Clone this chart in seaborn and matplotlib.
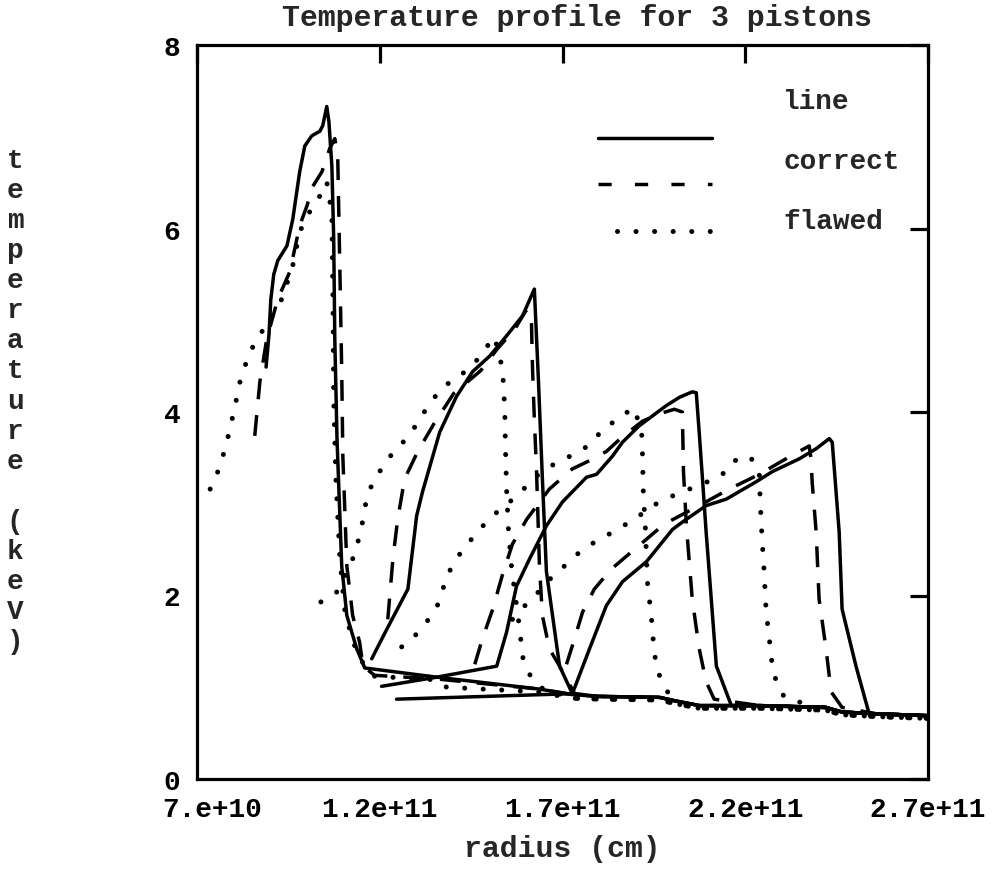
import numpy as np
import matplotlib
matplotlib.use("Agg")
import matplotlib.pyplot as plt
import matplotlib.transforms as mtransforms
import seaborn as sns
from matplotlib.lines import Line2D

# Radius values are in units of 1e10 cm, temperatures in keV.

# ---- "line" method: four snapshots ----
line1_r = [8.89, 8.97, 9.02, 9.10, 9.21, 9.46, 9.62, 9.81, 9.95, 10.14, 10.36, 10.44, 10.55, 10.61,
           10.69, 10.74, 10.77, 10.83, 10.96, 11.10, 11.37, 11.59, 13.56, 16.37, 17.27]
line1_T = [4.49, 4.85, 5.23, 5.50, 5.65, 5.81, 6.10, 6.62, 6.90, 7.01, 7.06, 7.12, 7.33, 7.16,
           6.68, 5.89, 4.80, 3.71, 2.32, 1.78, 1.42, 1.21, 1.11, 0.98, 0.92]

line2_r = [11.78, 12.19, 12.77, 13.01, 13.17, 13.64, 14.10, 14.54, 15.01, 15.47, 15.91, 16.23,
           16.34, 16.45, 16.56, 16.92, 17.27]
line2_T = [1.31, 1.63, 2.07, 2.87, 3.13, 3.78, 4.17, 4.44, 4.61, 4.83, 5.05, 5.34,
           4.36, 3.27, 2.26, 1.23, 0.93]

line3_r = [12.05, 13.56, 15.20, 15.47, 15.74, 16.10, 16.56, 17.00, 17.66, 17.93, 18.37, 18.64,
           19.10, 19.84, 20.20, 20.55, 20.66, 20.74, 20.83, 20.93, 21.07, 21.21, 21.62]
line3_T = [1.01, 1.11, 1.23, 1.60, 2.10, 2.40, 2.76, 3.02, 3.29, 3.32, 3.52, 3.67,
           3.85, 4.07, 4.16, 4.22, 4.21, 3.78, 3.27, 2.69, 1.96, 1.23, 0.80]

line4_r = [12.46, 17.27, 17.74, 18.20, 18.64, 19.30, 20.01, 20.28, 20.93, 21.48, 22.30, 22.74,
           23.48, 23.94, 24.30, 24.38, 24.57, 24.65, 25.03, 25.39]
line4_T = [0.87, 0.93, 1.42, 1.89, 2.15, 2.37, 2.72, 2.80, 2.98, 3.05, 3.24, 3.35,
           3.49, 3.60, 3.71, 3.67, 2.69, 1.85, 1.23, 0.71]

# ---- "correct" method ----
correct1_r = [8.58, 8.72, 8.91, 9.21, 9.54, 9.81, 10.01, 10.17, 10.42, 10.63, 10.77, 10.85,
              10.91, 10.96, 10.99, 11.10, 11.26, 11.45, 11.54, 11.86, 13.56, 16.37, 17.27]
correct1_T = [3.74, 4.33, 4.80, 5.23, 5.53, 6.03, 6.25, 6.46, 6.62, 6.87, 6.98, 6.79,
              5.53, 4.44, 3.52, 2.32, 1.78, 1.49, 1.23, 1.13, 1.09, 0.98, 0.92]

correct2_r = [12.22, 12.36, 12.49, 12.68, 13.04, 13.48, 14.02, 14.76, 15.22, 15.69, 15.99,
              16.07, 16.15, 16.18, 16.23, 16.29, 16.37, 16.45, 16.64, 16.92, 17.11, 17.33]
correct2_T = [1.74, 2.40, 2.83, 3.27, 3.57, 3.87, 4.20, 4.45, 4.69, 4.90, 5.10,
              5.12, 4.99, 4.47, 3.92, 3.35, 2.32, 1.78, 1.42, 1.23, 1.09, 0.93]

correct3_r = [14.60, 14.81, 15.09, 15.36, 15.63, 16.02, 16.64, 17.27, 17.74, 18.20, 18.64,
              19.19, 19.65, 20.06, 20.28, 20.31, 20.39, 20.55, 20.74, 20.93, 21.15]
correct3_T = [1.25, 1.53, 1.85, 2.23, 2.56, 2.83, 3.16, 3.38, 3.47, 3.57, 3.73,
              3.90, 3.98, 4.03, 4.00, 3.35, 2.76, 1.96, 1.42, 1.06, 0.87]

correct4_r = [17.11, 17.33, 17.55, 17.87, 18.34, 19.05, 19.79, 20.74, 21.56, 22.38, 23.20,
              23.75, 23.80, 23.83, 23.94, 24.02, 24.21, 24.35, 24.65]
correct4_T = [1.25, 1.53, 1.82, 2.07, 2.29, 2.53, 2.78, 2.98, 3.16, 3.32, 3.51,
              3.63, 3.49, 3.24, 2.69, 1.96, 1.42, 0.95, 0.78]

# ---- "flawed" method ----
flawed1_r = [7.36, 7.57, 7.71, 7.85, 7.96, 8.07, 8.17, 8.31, 8.50, 8.75, 9.27, 9.60, 9.81,
             10.01, 10.28, 10.55, 10.69, 10.72, 10.74, 10.80, 10.91, 11.04, 11.24, 11.45,
             11.86, 13.56, 13.83, 16.29, 17.27]
flawed1_T = [3.16, 3.35, 3.52, 3.73, 3.92, 4.12, 4.32, 4.50, 4.69, 4.86, 5.18, 5.56, 5.96,
             6.14, 6.29, 6.51, 6.16, 5.23, 4.14, 3.27, 2.40, 1.85, 1.53, 1.31,
             1.12, 1.08, 1.00, 0.95, 0.88]

flawed2_r = [10.39, 10.83, 11.26, 11.40, 11.51, 11.59, 11.73, 11.95, 12.22, 12.55, 12.87,
             13.15, 13.42, 13.72, 14.13, 14.54, 14.81, 15.14, 15.36, 15.42, 15.44, 15.47,
             15.52, 15.61, 15.72, 15.83, 15.91, 16.10, 16.37, 17.27]
flawed2_T = [1.93, 2.04, 2.40, 2.58, 2.76, 2.96, 3.16, 3.32, 3.49, 3.63, 3.78,
             3.96, 4.12, 4.27, 4.38, 4.50, 4.65, 4.82, 4.47, 4.03, 3.60, 3.16,
             2.72, 2.29, 1.96, 1.63, 1.33, 1.14, 1.00, 0.88]

flawed3_r = [12.60, 12.96, 13.28, 13.56, 13.86, 14.13, 14.40, 14.73, 15.09, 15.83, 16.18,
             16.56, 16.97, 17.41, 17.82, 18.15, 18.56, 18.91, 19.16, 19.19, 19.21, 19.27,
             19.32, 19.43, 19.51, 19.60, 19.79]
flawed3_T = [1.44, 1.56, 1.71, 1.87, 2.23, 2.42, 2.56, 2.72, 2.87, 3.11, 3.27,
             3.38, 3.48, 3.55, 3.67, 3.84, 3.92, 4.05, 3.84, 3.52, 3.13, 2.72,
             2.16, 1.77, 1.38, 1.18, 1.00]

flawed4_r = [15.63, 16.02, 16.37, 16.73, 17.11, 17.46, 17.87, 18.28, 18.75, 19.10, 19.57,
             19.98, 21.34, 21.64, 22.11, 22.38, 22.41, 22.46, 22.52, 22.57, 22.63, 22.74,
             22.85, 23.07]
flawed4_T = [1.74, 1.91, 2.05, 2.21, 2.34, 2.47, 2.58, 2.67, 2.78, 2.87, 3.00,
             3.08, 3.30, 3.46, 3.52, 3.38, 3.02, 2.62, 2.23, 1.83, 1.63, 1.23,
             1.06, 0.89]

# Undisturbed material ahead of the shocks (shared by every snapshot)
ambient_r = [17.3, 18.0, 19.65, 20.1, 20.75, 22.4, 24.2, 24.65, 25.6, 27.0]
ambient_T = [0.92, 0.90, 0.89, 0.85, 0.80, 0.80, 0.78, 0.73, 0.71, 0.69]
ambient_dot_T = [0.89, 0.87, 0.86, 0.82, 0.77, 0.77, 0.75, 0.70, 0.68, 0.66]

x_ticks = [7e10, 1.2e11, 1.7e11, 2.2e11, 2.7e11]
x_tick_labels = ["7.e+10", "1.2e+11", "1.7e+11", "2.2e+11", "2.7e+11"]
y_ticks = [0, 2, 4, 6, 8]
legend_labels = ["line", "correct", "flawed"]

# ---------------------------------------------------------------------------
sns.set_style("white")
plt.rcParams["font.family"] = ["Liberation Mono", "DejaVu Sans Mono"]
plt.rcParams["font.weight"] = "bold"

fig = plt.figure(figsize=(9.92, 8.70), dpi=100)
ax = fig.add_axes([197 / 992, 1 - 780 / 870, 731 / 992, 734 / 870])

LW = 2.5
styles = {
    "line": dict(linestyle="-", linewidth=LW),
    "correct": dict(linestyle=(0, (6.0, 4.6)), linewidth=LW, dash_capstyle="butt"),
    "flawed": dict(linestyle=(0, (0.01, 3.7)), linewidth=3.6, dash_capstyle="round"),
}


def with_tail(r, T, tail_T):
    r = list(r)
    T = list(T)
    for ar, at in zip(ambient_r, tail_T):
        if ar > r[-1] + 0.05:
            r.append(ar)
            T.append(at)
    return np.array(r) * 1e10, np.array(T)


curves = [
    ("line", line1_r, line1_T), ("line", line2_r, line2_T),
    ("line", line3_r, line3_T), ("line", line4_r, line4_T),
    ("correct", correct1_r, correct1_T), ("correct", correct2_r, correct2_T),
    ("correct", correct3_r, correct3_T), ("correct", correct4_r, correct4_T),
    ("flawed", flawed1_r, flawed1_T), ("flawed", flawed2_r, flawed2_T),
    ("flawed", flawed3_r, flawed3_T), ("flawed", flawed4_r, flawed4_T),
]

for method, r, T in curves:
    tail = ambient_dot_T if method == "flawed" else ambient_T
    rr, tt = with_tail(r, T, tail)
    sns.lineplot(x=rr, y=tt, ax=ax, color="black", sort=False, estimator=None,
                 legend=False, **styles[method])

ax.set_xlim(7e10, 2.7e11)
ax.set_ylim(0, 8)
ax.set_xticks(x_ticks)
ax.set_xticklabels(x_tick_labels)
ax.set_yticks(y_ticks)
ax.set_yticklabels([str(v) for v in y_ticks])

for side in ["left", "right", "top", "bottom"]:
    ax.spines[side].set_visible(True)
    ax.spines[side].set_linewidth(2.3)
    ax.spines[side].set_color("black")

ax.tick_params(axis="both", which="major", direction="in", length=13, width=2.3,
               top=True, right=True, labelsize=20, colors="black")
ax.tick_params(axis="x", pad=12)
ax.tick_params(axis="y", pad=12)
for lab in ax.get_xticklabels() + ax.get_yticklabels():
    lab.set_fontweight("bold")

# first radius label sits a little to the right of its tick
first = ax.get_xticklabels()[0]
first.set_transform(first.get_transform() +
                    mtransforms.ScaledTranslation(15 / 100, 0, fig.dpi_scale_trans))

ax.set_xlabel("radius (cm)", fontsize=21.5, fontweight="bold", labelpad=9)
fig.text(0.582, 0.979, "Temperature profile for 3 pistons", ha="center", va="center",
         fontsize=21.5, fontweight="bold")
fig.text(15 / 992, 0.5385, "\n".join("temperature (keV)"), ha="center", va="center",
         fontsize=20, fontweight="bold", linespacing=1.205)

# Key: label text sits above each sample stroke
key_text_y = [0.924, 0.842, 0.760]
key_line_y = [0.873, 0.811, 0.747]
key_x0 = [0.549, 0.549, 0.575]
for lab, ty, ly, x0, method in zip(legend_labels, key_text_y, key_line_y, key_x0,
                                   ["line", "correct", "flawed"]):
    ax.text(0.802, ty, lab, transform=ax.transAxes, ha="left", va="center",
            fontsize=20, fontweight="bold")
    st = dict(styles[method])
    if method == "correct":
        st["linestyle"] = (0, (3.8, 6.7))
    ax.add_line(Line2D([x0, 0.705], [ly, ly], transform=ax.transAxes, color="black", **st))

fig.savefig("out.png", dpi=100, facecolor="white")
